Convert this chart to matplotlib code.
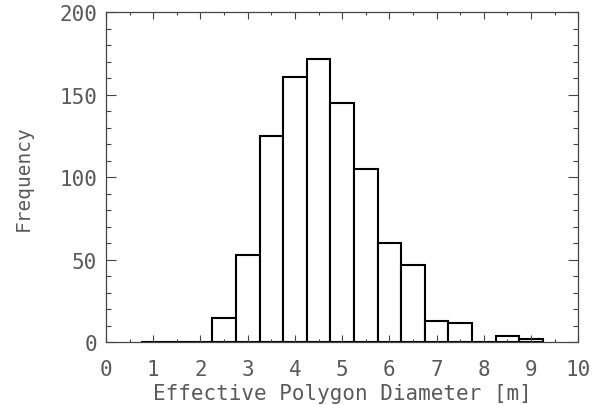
import numpy as np
import matplotlib
matplotlib.use("Agg")
import matplotlib.pyplot as plt
from matplotlib.ticker import MultipleLocator

# histogram bins (centres, 0.5 m wide) and counts
bin_centers = [1.0, 1.5, 2.0, 2.5, 3.0, 3.5, 4.0, 4.5, 5.0,
               5.5, 6.0, 6.5, 7.0, 7.5, 8.0, 8.5, 9.0]
counts = [0, 0, 0, 15, 53, 125, 161, 172, 145,
          105, 60, 47, 13, 12, 0, 4, 2]
bin_width = 0.5

# wide monospace face comes closest to the thin, widely spaced original lettering
plt.rcParams['font.family'] = 'DejaVu Sans Mono'
text_color = '#5a5a5a'

fig = plt.figure(figsize=(5.94, 4.06), dpi=100)
ax = fig.add_axes([0.1785, 0.1544, 0.795, 0.8128])

ax.bar(bin_centers, counts, width=bin_width, facecolor='white',
       edgecolor='black', linewidth=1.5)

ax.set_xlim(0, 10)
ax.set_ylim(0, 200)
ax.xaxis.set_major_locator(MultipleLocator(1))
ax.xaxis.set_minor_locator(MultipleLocator(0.5))
ax.yaxis.set_major_locator(MultipleLocator(50))
ax.yaxis.set_minor_locator(MultipleLocator(10))

ax.tick_params(which='both', direction='in', top=True, right=True,
               color='#444444', width=0.8, labelcolor=text_color, labelsize=15)
ax.tick_params(axis='x', which='major', length=5, pad=12)
ax.tick_params(axis='x', which='minor', length=2.5)
ax.tick_params(axis='y', which='major', length=7, pad=6.5)
ax.tick_params(axis='y', which='minor', length=3.5)
for s in ax.spines.values():
    s.set_linewidth(0.9)
    s.set_color('#444444')

ax.set_xlabel("Effective Polygon Diameter [m]", fontsize=15, color=text_color, labelpad=3)
ax.set_ylabel("Frequency", fontsize=14, color=text_color, labelpad=19)

plt.savefig('out.png', dpi=100)
